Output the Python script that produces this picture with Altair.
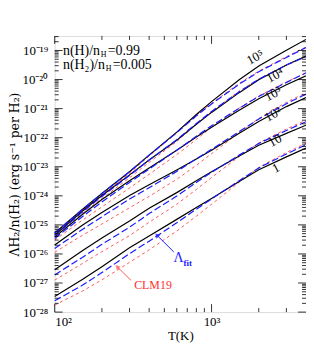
import altair as alt
import pandas as pd

# Temperature grid (K)
T = [100, 150, 200, 300, 400, 600, 800, 1000, 1500, 2000, 3000, 4000]

# log10 of Lambda/n(H2), one list per density and curve kind
black_1 = [-27.46, -26.88, -26.44, -25.79, -25.38, -24.81, -24.40, -24.09, -23.51, -23.10, -22.66, -22.36]
black_10 = [-26.54, -25.89, -25.45, -24.87, -24.43, -23.89, -23.48, -23.17, -22.63, -22.26, -21.85, -21.57]
black_1e2 = [-25.69, -25.01, -24.57, -23.99, -23.62, -23.11, -22.73, -22.43, -21.85, -21.44, -20.93, -20.62]
black_1e3 = [-25.42, -24.64, -24.13, -23.48, -23.04, -22.43, -21.98, -21.64, -21.06, -20.66, -20.18, -19.87]
black_1e4 = [-25.35, -24.53, -23.99, -23.28, -22.77, -22.09, -21.54, -21.13, -20.45, -20.01, -19.50, -19.19]
black_1e5 = [-25.28, -24.47, -23.92, -23.17, -22.60, -21.81, -21.20, -20.76, -20.01, -19.53, -18.99, -18.62]

fit_1 = [-27.61, -27.08, -26.64, -25.99, -25.56, -24.93, -24.46, -24.11, -23.48, -23.04, -22.56, -22.24]
fit_10 = [-26.72, -26.12, -25.67, -25.08, -24.61, -24.01, -23.54, -23.19, -22.60, -22.20, -21.75, -21.45]
fit_1e2 = [-25.81, -25.16, -24.72, -24.11, -23.72, -23.16, -22.73, -22.40, -21.79, -21.36, -20.83, -20.50]
fit_1e3 = [-25.47, -24.72, -24.21, -23.54, -23.08, -22.43, -21.95, -21.59, -20.99, -20.58, -20.10, -19.77]
fit_1e4 = [-25.37, -24.56, -24.02, -23.30, -22.77, -22.07, -21.51, -21.10, -20.42, -19.99, -19.50, -19.21]
fit_1e5 = [-25.28, -24.47, -23.92, -23.17, -22.60, -21.83, -21.25, -20.84, -20.16, -19.73, -19.24, -18.90]

clm_1 = [-27.76, -27.28, -26.89, -26.29, -25.86, -25.21, -24.70, -24.29, -23.53, -23.02, -22.51, -22.19]
clm_10 = [-26.90, -26.33, -25.92, -25.37, -24.91, -24.29, -23.78, -23.37, -22.65, -22.18, -21.70, -21.40]
clm_1e2 = [-25.94, -25.36, -24.97, -24.41, -24.02, -23.43, -22.95, -22.55, -21.83, -21.34, -20.78, -20.45]
clm_1e3 = [-25.52, -24.84, -24.38, -23.73, -23.26, -22.58, -22.06, -21.64, -20.98, -20.56, -20.08, -19.77]
clm_1e4 = [-25.38, -24.61, -24.09, -23.38, -22.85, -22.13, -21.54, -21.10, -20.40, -19.98, -19.50, -19.21]
clm_1e5 = [-25.28, -24.50, -23.97, -23.22, -22.63, -21.83, -21.23, -20.82, -20.13, -19.71, -19.21, -18.88]

groups = ["1", "10", "1e2", "1e3", "1e4", "1e5"]
black = [black_1, black_10, black_1e2, black_1e3, black_1e4, black_1e5]
fit = [fit_1, fit_10, fit_1e2, fit_1e3, fit_1e4, fit_1e5]
clm = [clm_1, clm_10, clm_1e2, clm_1e3, clm_1e4, clm_1e5]

# curve labels
lab_text = ["10⁵", "10⁴", "10³", "10²", "10", "1"]
lab_T = [1898, 2541, 2466, 2466, 2541, 2577]
lab_logL = [-19.24, -19.86, -20.50, -21.20, -22.10, -23.05]

rows = []
for g, bk, ft, cl in zip(groups, black, fit, clm):
    for t, a, b, c in zip(T, bk, ft, cl):
        rows.append(dict(group=g, kind="black", T=t, L=10 ** a))
        rows.append(dict(group=g, kind="fit", T=t, L=10 ** b))
        rows.append(dict(group=g, kind="clm", T=t, L=10 ** c))
df = pd.DataFrame(rows)

W, H = 253, 278
FONT = "Liberation Serif"
xs = alt.Scale(type="log", domain=[100, 4000], nice=False)
ys = alt.Scale(type="log", domain=[1e-28, 10 ** -18.5], nice=False)

sup = "['⁻²⁸','⁻²⁷','⁻²⁶','⁻²⁵','⁻²⁴','⁻²³','⁻²²','⁻²¹','⁻²⁰','⁻¹⁹']"
yaxis = alt.Axis(values=[10.0 ** k for k in range(-28, -18)],
                 labelExpr="'10' + " + sup + "[round(log(datum.value)/LN10)+28]",
                 ticks=False, domain=False, grid=False, labelFont=FONT, labelFontSize=13,
                 labelPadding=7, labelColor="black",
                 title="ΛH₂/n(H₂) (erg s⁻¹ per H₂)", titleFont="DejaVu Serif", titleFontSize=12.5,
                 titleFontWeight="normal", titlePadding=1, titleColor="black")
xaxis = alt.Axis(values=[100, 1000], labelExpr="datum.value < 500 ? '10²' : '10³'",
                 ticks=False, domain=False, grid=False, labelFont=FONT, labelFontSize=13,
                 labelPadding=3, labelColor="black",
                 title="T(K)", titleFont=FONT, titleFontSize=13, titleFontWeight="normal",
                 titlePadding=2, titleColor="black")

base = alt.Chart(df).encode(
    x=alt.X("T:Q", scale=xs, axis=xaxis),
    y=alt.Y("L:Q", scale=ys, axis=yaxis),
    detail="group:N",
)
red = base.transform_filter(alt.datum.kind == "clm").mark_line(
    color="#ff5a5a", strokeDash=[3, 3], strokeWidth=1)
blk = base.transform_filter(alt.datum.kind == "black").mark_line(
    color="black", strokeWidth=1.2)
blue = base.transform_filter(alt.datum.kind == "fit").mark_line(
    color="#1a1aff", strokeDash=[7, 3], strokeWidth=1.2)

# ticks
ymaj = [10.0 ** k for k in range(-28, -18)]
ymin = [m * 10.0 ** k for k in range(-28, -19) for m in range(2, 10)] + [2e-19, 3e-19]
xmaj = [100, 1000]
xmin = [200, 300, 400, 500, 600, 700, 800, 900, 2000, 3000]

def yticks(vals, length):
    d = pd.DataFrame({"v": vals})
    l = alt.Chart(d).mark_rule(color="black", strokeWidth=0.8).encode(
        y=alt.Y("v:Q", scale=ys), x=alt.value(0), x2=alt.value(length))
    r = alt.Chart(d).mark_rule(color="black", strokeWidth=0.8).encode(
        y=alt.Y("v:Q", scale=ys), x=alt.value(W), x2=alt.value(W - length))
    return [l, r]

def xticks(vals, length):
    d = pd.DataFrame({"v": vals})
    b = alt.Chart(d).mark_rule(color="black", strokeWidth=0.8).encode(
        x=alt.X("v:Q", scale=xs), y=alt.value(H), y2=alt.value(H - length))
    t = alt.Chart(d).mark_rule(color="black", strokeWidth=0.8).encode(
        x=alt.X("v:Q", scale=xs), y=alt.value(0), y2=alt.value(length))
    return [b, t]

tick_layers = yticks(ymaj, 8) + yticks(ymin, 4) + xticks(xmaj, 8) + xticks(xmin, 4)

# curve labels
labdf = pd.DataFrame({"T": lab_T, "L": [10 ** v for v in lab_logL], "t": lab_text})
labels = alt.Chart(labdf).mark_text(font=FONT, fontSize=13, angle=332, color="black").encode(
    x=alt.X("T:Q", scale=xs), y=alt.Y("L:Q", scale=ys), text="t:N")

# top-left annotation
ann_T = [113, 113]
ann_L = [10 ** -19.02, 10 ** -19.5]
ann = pd.DataFrame({"T": ann_T, "L": ann_L})
def piece(i, txt, dx, size=14, dy=0):
    return alt.Chart(ann.iloc[[i]]).mark_text(
        font=FONT, fontSize=size, align="left", baseline="middle", dx=dx, dy=dy,
        color="black", text=txt).encode(x=alt.X("T:Q", scale=xs), y=alt.Y("L:Q", scale=ys))

ann_layers = [
    piece(0, "n(H)/n", 0), piece(0, "H", 38, 8, 4), piece(0, "=0.99", 45),
    piece(1, "n(H₂)/n", 0), piece(1, "H", 43, 8, 4), piece(1, "=0.005", 50),
]

# arrows and their labels
arr = pd.DataFrame({
    "name": ["fit", "fit", "clm", "clm"],
    "T": [574, 448, 307, 250],
    "L": [10 ** -25.93, 10 ** -25.35, 10 ** -26.91, 10 ** -26.44],
})
arr_fit = alt.Chart(arr[arr.name == "fit"]).mark_line(color="#1a1aff", strokeWidth=1).encode(
    x=alt.X("T:Q", scale=xs), y=alt.Y("L:Q", scale=ys))
arr_clm = alt.Chart(arr[arr.name == "clm"]).mark_line(color="#ff5a5a", strokeWidth=1).encode(
    x=alt.X("T:Q", scale=xs), y=alt.Y("L:Q", scale=ys))
head_fit = alt.Chart(arr[arr.name == "fit"].iloc[[1]]).mark_point(
    shape="triangle-up", angle=315, size=30, filled=True, color="#1a1aff").encode(
    x=alt.X("T:Q", scale=xs), y=alt.Y("L:Q", scale=ys))
head_clm = alt.Chart(arr[arr.name == "clm"].iloc[[1]]).mark_point(
    shape="triangle-up", angle=315, size=30, filled=True, color="#ff5a5a").encode(
    x=alt.X("T:Q", scale=xs), y=alt.Y("L:Q", scale=ys))

txt = pd.DataFrame({"T": [572, 321], "L": [10 ** -26.13, 10 ** -27.08]})
lam = alt.Chart(txt.iloc[[0]]).mark_text(font=FONT, fontSize=14, align="left", baseline="middle",
                                          color="#1a1aff", text="Λ").encode(
    x=alt.X("T:Q", scale=xs), y=alt.Y("L:Q", scale=ys))
lamsub = alt.Chart(txt.iloc[[0]]).mark_text(font=FONT, fontSize=9, fontWeight="bold", align="left",
                                             baseline="middle", dx=10, dy=5,
                                             color="#1a1aff", text="fit").encode(
    x=alt.X("T:Q", scale=xs), y=alt.Y("L:Q", scale=ys))
clmtxt = alt.Chart(txt.iloc[[1]]).mark_text(font=FONT, fontSize=12, align="left", baseline="middle",
                                             color="#ff3030", text="CLM19").encode(
    x=alt.X("T:Q", scale=xs), y=alt.Y("L:Q", scale=ys))

chart = alt.layer(
    red, blk, blue, labels, *tick_layers, *ann_layers,
    arr_fit, arr_clm, head_fit, head_clm, lam, lamsub, clmtxt,
).properties(
    width=W, height=H,
    padding={"left": 47, "top": 27, "right": 0, "bottom": 34},
    autosize=alt.AutoSizeParams(type="none"),
).configure_view(stroke="black", strokeWidth=1).configure(background="white")

chart.save("out.html", embed_options={"renderer": "svg", "actions": False})
